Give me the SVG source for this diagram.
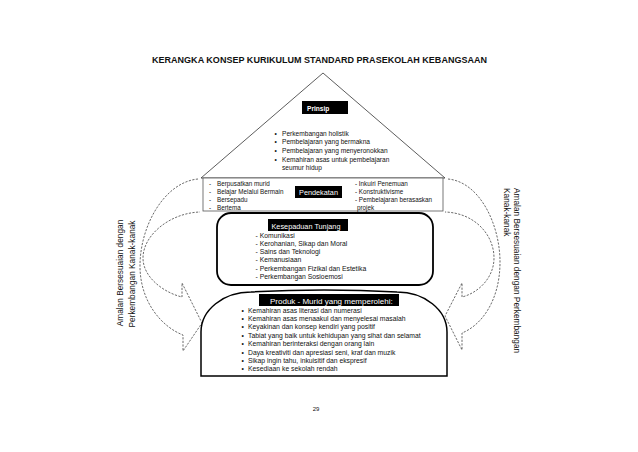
<svg xmlns="http://www.w3.org/2000/svg" width="638" height="452" viewBox="0 0 638 452">
<defs>
<style>
text{font-family:"Liberation Sans",Arial,sans-serif;fill:#111;}
.title{font-size:9px;font-weight:bold;}
.lbl{fill:#fff;font-size:7.3px;}
.lblbox{fill:#000;}
.s1{font-size:6.6px;}
.s2{font-size:6.3px;}
.s3{font-size:6.8px;}
.side{font-size:8.3px;}
.arrow{fill:none;stroke:#444;stroke-width:0.8;stroke-dasharray:2.2 1.4;}
</style>
</defs>
<rect width="638" height="452" fill="#fff"/>
<g id="title"><text class="title" x="152" y="63.2" textLength="335">KERANGKA KONSEP KURIKULUM STANDARD PRASEKOLAH KEBANGSAAN</text></g>

<g id="connectors">
<path class="arrow" d="M198,179 C165,182 140,225 140,266 C140,302 162,327 183,335 L183,351 L202,323 L182,283 L182,297 C165,293 143,278 143,258 C143,235 170,213 200,212"/>
<path class="arrow" d="M448,179 C480,182 500,225 500,262 C500,300 482,325 462,333 L462,350 L445,316 L462,283 L462,297 C478,293 494,278 494,258 C494,235 475,213 445,212"/>
</g>

<g id="prinsip">
<polygon points="323,73 201,178 445,178" fill="#fff" stroke="#333" stroke-width="0.8"/>
<rect class="lblbox" x="302" y="101" width="46" height="13"/>
<text class="lbl" x="307" y="110.5" style="font-weight:bold;font-size:6.6px">Prinsip</text>
<g class="s1">
<text x="274.5" y="135.5">•</text><text x="282" y="135.5">Perkembangan holistik</text>
<text x="274.5" y="144.2">•</text><text x="282" y="144.2">Pembelajaran yang bermakna</text>
<text x="274.5" y="152.9">•</text><text x="282" y="152.9">Pembelajaran yang menyeronokkan</text>
<text x="274.5" y="161.6">•</text><text x="282" y="161.6">Kemahiran asas untuk  pembelajaran</text>
<text x="282" y="170">seumur hidup</text>
</g>
</g>

<g id="pendekatan">
<rect x="203" y="178" width="240" height="33" fill="#fff" stroke="#555" stroke-width="0.8"/>
<rect class="lblbox" x="295" y="186" width="47" height="12"/>
<text class="lbl" x="318.5" y="195" text-anchor="middle">Pendekatan</text>
<g class="s2">
<text><tspan x="209" y="185.5">-</tspan><tspan x="217">Berpusatkan murid</tspan></text>
<text><tspan x="209" y="193.7">-</tspan><tspan x="217">Belajar Melalui Bermain</tspan></text>
<text><tspan x="209" y="201.9">-</tspan><tspan x="217">Bersepadu</tspan></text>
<text><tspan x="209" y="210">-</tspan><tspan x="217">Bertema</tspan></text>
<text x="355" y="185.5">- Inkuiri Penemuan</text>
<text x="355" y="193.7">- Konstruktivisme</text>
<text x="355" y="201.9">- Pembelajaran berasaskan</text>
<text x="357" y="210">projek</text>
</g>
</g>

<g id="kesepaduan">
<rect x="217" y="213" width="216" height="72" rx="14" ry="14" fill="#fff" stroke="#000" stroke-width="1.8"/>
<rect class="lblbox" x="268" y="219" width="80" height="12"/>
<text class="lbl" x="306" y="228.5" text-anchor="middle">Kesepaduan Tunjang</text>
<g class="s3">
<text x="255.5" y="237.5">- Komunikasi</text>
<text x="255.5" y="245.8">- Kerohanian, Sikap  dan Moral</text>
<text x="255.5" y="254.1">- Sains dan Teknologi</text>
<text x="255.5" y="262.4">- Kemanusiaan</text>
<text x="255.5" y="270.7">- Perkembangan Fizikal dan Estetika</text>
<text x="255.5" y="279">- Perkembangan Sosioemosi</text>
</g>
</g>

<g id="produk">
<path d="M201,376 V332 A50,40 0 0 1 251,292 Q324,288 397,292 A50,40 0 0 1 447,332 V376 Z" fill="#fff" stroke="#000" stroke-width="1.5"/>
<rect class="lblbox" x="259" y="294" width="140" height="12"/>
<text class="lbl" x="270" y="303.5" style="font-size:8px">Produk -  Murid yang memperolehi:</text>
<g class="s3">
<text x="241.5" y="312.5">•</text><text x="248" y="312.5">Kemahiran asas literasi dan numerasi</text>
<text x="241.5" y="320.9">•</text><text x="248" y="320.9">Kemahiran asas menaakul dan menyelesai masalah</text>
<text x="241.5" y="329.3">•</text><text x="248" y="329.3">Keyakinan dan konsep kendiri yang positif</text>
<text x="241.5" y="337.7">•</text><text x="248" y="337.7">Tabiat yang baik untuk kehidupan yang sihat dan selamat</text>
<text x="241.5" y="346.1">•</text><text x="248" y="346.1">Kemahiran berinteraksi dengan orang lain</text>
<text x="241.5" y="354.5">•</text><text x="248" y="354.5">Daya kreativiti dan apresiasi seni, kraf dan muzik</text>
<text x="241.5" y="362.9">•</text><text x="248" y="362.9">Sikap ingin tahu, inkuisitif dan ekspresif</text>
<text x="241.5" y="371.3">•</text><text x="248" y="371.3">Kesediaan ke sekolah rendah</text>
</g>
</g>

<g id="label-left">
<text class="side" transform="translate(123,273) rotate(-90)" text-anchor="middle">Amalan Bersesuaian dengan</text>
<text class="side" transform="translate(135,274) rotate(-90)" text-anchor="middle">Perkembangan Kanak-kanak</text>
</g>
<g id="label-right">
<text class="side" transform="translate(514,188) rotate(90)">Amalan Bersesuaian dengan Perkembangan</text>
<text class="side" transform="translate(504,188) rotate(90)">Kanak-kanak</text>
</g>

<g id="page"><text x="316" y="411" text-anchor="middle" style="font-size:6px">29</text></g>
</svg>
